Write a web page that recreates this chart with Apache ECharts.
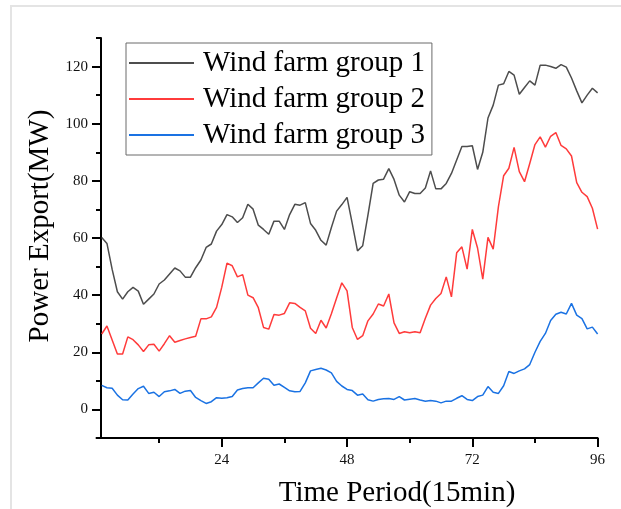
<!DOCTYPE html>
<html>
<head>
<meta charset="utf-8">
<script src="https://cdn.jsdelivr.net/npm/echarts@6/dist/echarts.min.js"></script>
<style>
    html, body { margin: 0; padding: 0; background: #fff; }
    #frame { position: absolute; left: 10px; top: 5px; width: 611px; height: 504px;
             border-top: 2px solid #e4e4e4; border-left: 2px solid #e4e4e4; }
    #WindFarm { position: absolute; left: 0; top: 0; width: 621px; height: 509px; }
</style>
</head>
<body>
<div id="frame"></div>
<div id="WindFarm"></div>
<script>
// time periods (15 min steps)
const periods = [
    1, 2, 3, 4, 5, 6, 7, 8, 9, 10, 11, 12, 13, 14, 15, 16, 17, 18, 19, 20, 21, 22, 23, 24,
    25, 26, 27, 28, 29, 30, 31, 32, 33, 34, 35, 36, 37, 38, 39, 40, 41, 42, 43, 44, 45, 46, 47, 48,
    49, 50, 51, 52, 53, 54, 55, 56, 57, 58, 59, 60, 61, 62, 63, 64, 65, 66, 67, 68, 69, 70, 71, 72,
    73, 74, 75, 76, 77, 78, 79, 80, 81, 82, 83, 84, 85, 86, 87, 88, 89, 90, 91, 92, 93, 94, 95, 96
];

const seriesNames = ['Wind farm group 1', 'Wind farm group 2', 'Wind farm group 3'];
const seriesColors = ['#4d4d4d', '#ff3b3b', '#1a72e3'];

const group1 = [
    60.2, 58.1, 49, 41.2, 38.6, 41.2, 42.7, 41.4, 36.8, 38.6, 40.4, 43.9,
    45.3, 47.4, 49.5, 48.5, 46.3, 46.3, 49.6, 52.3, 56.7, 57.9, 62.4, 64.7,
    68.2, 67.4, 65.4, 67.1, 71.8, 70.1, 64.5, 63, 61.3, 65.9, 65.9, 63,
    68.2, 71.8, 71.5, 72.4, 65.1, 62.7, 59.2, 57.5, 63.7, 69.4, 71.7, 74.2,
    65, 55.5, 57.3, 68, 79.1, 80.3, 80.6, 84.3, 80.5, 75, 72.6, 76.2,
    75.6, 75.6, 77.5, 83.5, 77.2, 77.2, 79.1, 82.6, 87.3, 92, 92, 92.3,
    84, 90, 102, 106.5, 113.5, 114, 118.3, 117, 110.3, 112.7, 115, 113.5,
    120.5, 120.5, 120, 119.4, 120.7, 119.8, 116, 111.5, 107.3, 110, 112.4, 110.8
];

const group2 = [
    26.4, 29.2, 24.3, 19.4, 19.4, 25.4, 24.4, 22.6, 20.3, 22.6, 22.8, 20.4,
    23, 25.8, 23.5, 24.1, 24.7, 25.2, 25.6, 31.7, 31.7, 32.4, 35.7, 42.8,
    51.2, 50.3, 46.4, 47.2, 40, 39.1, 35.6, 28.7, 28.1, 33.2, 33, 33.6,
    37.3, 37.1, 35.7, 34.5, 28.4, 26.6, 31.2, 28.5, 33.5, 39, 44.3, 41.5,
    28.7, 24.5, 25.8, 31, 33.4, 36.9, 36.2, 40.4, 30.3, 26.6, 27.2, 26.8,
    27.2, 26.8, 31.9, 36.5, 38.8, 40.6, 46.4, 39.4, 54.8, 56.9, 49.1, 63,
    56.5, 45.6, 60.2, 56.1, 71, 81.8, 84.4, 91.7, 83.2, 79.7, 86.1, 92.7,
    95.4, 91.8, 95.6, 96.9, 92.4, 91.2, 88.7, 79.4, 76, 74.5, 70.4, 63.1
];

const group3 = [
    8.4, 7.6, 7.4, 5.0, 3.4, 3.3, 5.4, 7.3, 8.1, 5.6, 6.0, 4.5,
    6.2, 6.5, 7.0, 5.6, 6.4, 6.6, 4.2, 3.1, 2.1, 2.7, 4.1, 3.9,
    4.1, 4.5, 6.8, 7.3, 7.6, 7.6, 9.3, 10.9, 10.6, 8.5, 8.9, 7.7,
    6.5, 6.2, 6.3, 9.3, 13.5, 14.0, 14.4, 13.8, 12.8, 9.8, 8.2, 7.0,
    6.6, 5.0, 5.4, 3.4, 2.9, 3.5, 3.7, 3.8, 3.5, 4.5, 3.3, 3.6,
    3.8, 3.3, 2.9, 3.1, 2.9, 2.3, 2.9, 2.9, 3.9, 4.8, 3.5, 3.1,
    4.5, 5.0, 8.0, 6.0, 5.6, 8.3, 13.3, 12.6, 13.5, 14.2, 15.7, 20,
    23.8, 26.6, 31.1, 33.3, 34, 33.4, 37.1, 33, 31.8, 28.2, 28.8, 26.4
];

const xTicks = [24, 48, 72, 96];
const yTicks = [0, 20, 40, 60, 80, 100, 120];

const serif = 'Liberation Serif';

function pairs(values) {
    return periods.map((p, i) => [p, values[i]]);
}

const black = { color: '#000', width: 2 };

const chart = echarts.init(document.getElementById('WindFarm'));

chart.setOption({
    animation: false,
    textStyle: { fontFamily: serif },
    grid: { left: 96.5, right: 23.4, top: 38, bottom: 71, outerBoundsMode: 'none' },
    legend: {
        orient: 'vertical',
        left: 126,
        top: 43,
        padding: [5, 7, 5, 3],
        itemGap: 6,
        itemWidth: 65,
        itemHeight: 2,
        icon: 'rect',
        borderColor: '#6a6a6a',
        borderWidth: 1,
        textStyle: { fontFamily: serif, fontSize: 29, color: '#000', lineHeight: 30, padding: [0, 0, 0, 4] },
        data: seriesNames
    },
    xAxis: {
        type: 'value',
        min: 0,
        max: 96,
        interval: 24,
        name: 'Time Period(15min)',
        nameLocation: 'middle',
        nameGap: 41,
        nameTextStyle: { fontFamily: serif, fontSize: 29, color: '#000', padding: [0, 0, 0, 100] },
        axisLine: { onZero: false, lineStyle: black },
        axisTick: { inside: false, length: 9, customValues: xTicks, lineStyle: black },
        minorTick: { show: true, splitNumber: 2, length: 5, lineStyle: black },
        axisLabel: {
            margin: 15,
            fontFamily: serif,
            fontSize: 15,
            color: '#111',
            customValues: xTicks
        },
        splitLine: { show: false }
    },
    yAxis: [
        {
            // axis line + short ticks every 10
            type: 'value',
            min: -10,
            max: 130,
            interval: 10,
            offset: -4.5,
            axisLine: { show: true, onZero: false, lineStyle: black },
            axisTick: { show: true, inside: false, length: 5, lineStyle: black },
            axisLabel: { show: false },
            splitLine: { show: false }
        },
        {
            // long ticks + labels every 20
            type: 'value',
            position: 'left',
            min: -10,
            max: 130,
            interval: 10,
            offset: -4.5,
            name: 'Power Export(MW)',
            nameLocation: 'middle',
            nameGap: 44,
            nameTextStyle: { fontFamily: serif, fontSize: 29, color: '#000', padding: [0, 0, 0, 24] },
            axisLine: { show: false, onZero: false },
            axisTick: { show: true, inside: false, length: 9, customValues: yTicks, lineStyle: black },
            axisLabel: {
                margin: 13,
                fontFamily: serif,
                fontSize: 15,
                color: '#111',
                customValues: yTicks
            },
            splitLine: { show: false }
        }
    ],
    series: [group1, group2, group3].map((vals, k) => ({
        name: seriesNames[k],
        type: 'line',
        yAxisIndex: 0,
        data: pairs(vals),
        symbol: 'none',
        color: seriesColors[k],
        lineStyle: { width: 1.5, color: seriesColors[k] }
    }))
});
</script>
</body>
</html>
